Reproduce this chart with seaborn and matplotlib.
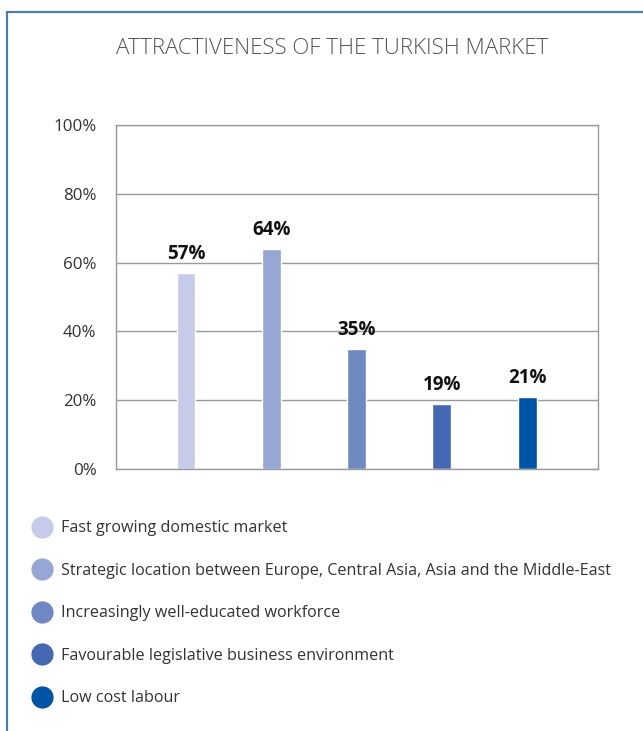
import matplotlib
matplotlib.use("Agg")
import matplotlib.pyplot as plt
from matplotlib.lines import Line2D
import seaborn as sns
import pandas as pd

categories = ["Fast growing domestic market",
              "Strategic location between Europe, Central Asia, Asia and the Middle-East",
              "Increasingly well-educated workforce",
              "Favourable legislative business environment",
              "Low cost labour"]
values = [57, 64, 35, 19, 21]
colors = ["#C6CBE9", "#98A6D5", "#7088C2", "#4568B4", "#0054A5"]
yticks = [0, 20, 40, 60, 80, 100]
title = "ATTRACTIVENESS OF THE TURKISH MARKET"

sns.set_theme(style="white")
plt.rcParams['font.family'] = ['Open Sans', 'DejaVu Sans']

df = pd.DataFrame({"cat": categories, "val": values})

W, H = 643, 731
fig = plt.figure(figsize=(W/100, H/100), dpi=100)
ax = fig.add_axes([116/W, 1-469/H, (598-116)/W, (469-125)/H])

sns.barplot(data=df, x="cat", y="val", hue="cat", palette=colors, order=categories,
            hue_order=categories, legend=False, width=0.22, ax=ax, saturation=1)

ax.set_xlim(-0.82, 4.83)
ax.set_ylim(0, 100)
ax.set_yticks(yticks)
ax.set_yticklabels([f"{t}%" for t in yticks], fontsize=12.2, color="#333333")
ax.set_xticks([])
ax.set_xlabel("")
ax.set_ylabel("")
ax.yaxis.grid(True, color="#9a9a9a", linewidth=1)
ax.set_axisbelow(True)
for s in ax.spines.values():
    s.set_color("#9a9a9a")
    s.set_linewidth(1)
ax.tick_params(axis="y", length=0, pad=14)

for i, v in enumerate(values):
    ax.text(i, v + 2.6, f"{v}%", ha="center", va="bottom", fontsize=13.5,
            fontweight="bold", color="#111111")

fig.text(332/W, 1-48/H, title, ha="center", va="center", fontsize=16,
         fontweight="light", color="#555555")

# Frame lines (top and left)
fig.add_artist(Line2D([7/W, 1], [1-12/H, 1-12/H], transform=fig.transFigure,
                      color="#4A7DAA", linewidth=1.6))
fig.add_artist(Line2D([7/W, 7/W], [0, 1-12/H], transform=fig.transFigure,
                      color="#4A7DAA", linewidth=1.6))

handles = [Line2D([0], [0], marker="o", linestyle="", markersize=15,
                  markerfacecolor=c, markeredgecolor=c) for c in colors]
leg = fig.legend(handles, categories, loc="upper left",
                 bbox_to_anchor=(25/W, 1-514/H), frameon=False,
                 fontsize=11.6, labelspacing=1.645, handletextpad=0.6,
                 handlelength=1.25, borderaxespad=0)
for t in leg.get_texts():
    t.set_color("#333333")

fig.savefig("out.png", dpi=100)
